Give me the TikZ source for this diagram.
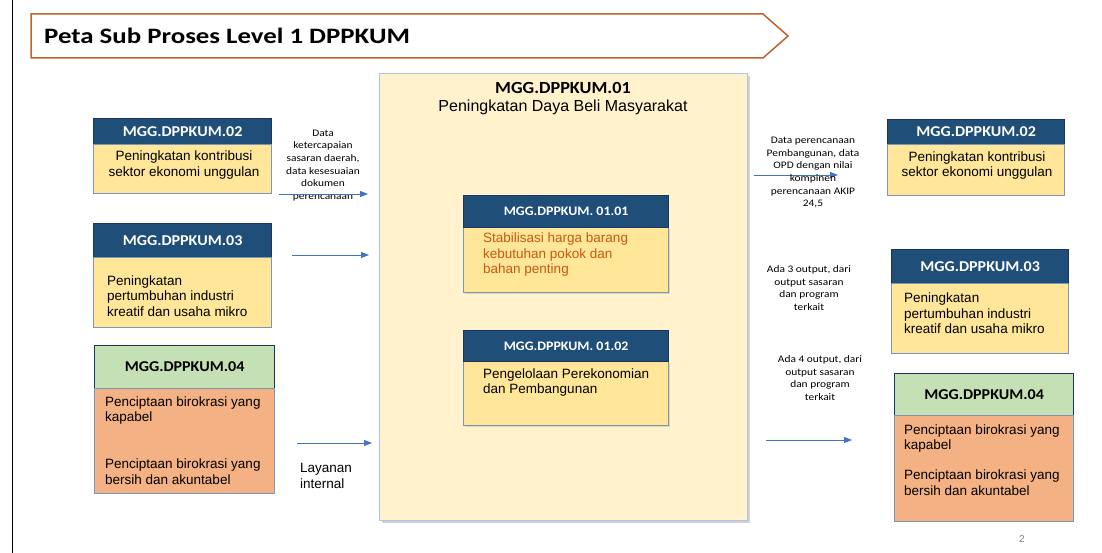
\documentclass[tikz,border=0pt]{standalone}
\usepackage{fontspec}
\setmainfont{Liberation Sans}
\newfontfamily\carlito{Carlito}
\newfontfamily\carlitoH[FakeStretch=1.07]{Carlito}
\newfontfamily\carlitoS[FakeStretch=1.14]{Carlito}
\newfontfamily\carlitoT[FakeStretch=1.22]{Carlito}
\usetikzlibrary{arrows.meta,shadows}
\definecolor{hdrblue}{HTML}{1F4E79}
\definecolor{hdrborder}{HTML}{1B3560}
\definecolor{bodyyellow}{HTML}{FFE699}
\definecolor{bodyborder}{HTML}{7A96B8}
\definecolor{hdrgreen}{HTML}{C5E0B4}
\definecolor{bodyorange}{HTML}{F4B183}
\definecolor{bigfill}{HTML}{FFF2CC}
\definecolor{bigborder}{HTML}{A9C4E4}
\definecolor{arrowblue}{HTML}{4472C4}
\definecolor{banner}{HTML}{C0632B}
\definecolor{redtext}{HTML}{C55A11}
\tikzset{
  box/.style={rectangle, anchor=north west, inner sep=0pt, line width=1.2pt},
  hdr/.style={box, fill=hdrblue, draw=hdrborder, text=white, font=\carlitoH\bfseries\fontsize{15}{17}\selectfont},
  hdrg/.style={box, fill=hdrgreen, draw=hdrborder, text=black, font=\carlitoH\bfseries\fontsize{15}{17}\selectfont},
  ihdr/.style={box, fill=hdrblue, draw=hdrborder, text=white, font=\carlitoH\bfseries\fontsize{13}{15}\selectfont},
  bodyy/.style={box, fill=bodyyellow, draw=bodyborder},
  bodyo/.style={box, fill=bodyorange, draw=bodyborder},
  btext/.style={inner sep=0pt, font=\fontsize{13.5}{15.5}\selectfont},
  small/.style={inner sep=0pt, align=center, font=\carlitoS\fontsize{10}{12.7}\selectfont},
  flow/.style={draw=arrowblue, line width=0.9pt, -{Triangle[length=8pt,width=6pt]}},
}
\begin{document}
\begin{tikzpicture}[x=1pt,y=-1pt]
\useasboundingbox (0,0) rectangle (1102,553);
\fill[white] (0,0) rectangle (1102,553);
% left rule
\coordinate (rt) at (12,0);
\coordinate (rb) at (12,553);
\draw[black, line width=0.8pt] (rt) -- (rb);
% banner
\draw[banner, line width=1.5pt, fill=white] (31,14) -- (763,14) -- (788,36) -- (763,58) -- (31,58) -- cycle;
\node[anchor=base west, inner sep=0pt, font=\carlitoT\bfseries\fontsize{22}{26}\selectfont] (title) at (44,44) {Peta Sub Proses Level 1 DPPKUM};

% ---------- left column ----------
\node[hdr, minimum width=178pt, minimum height=26pt] (l02h) at (93,118) {MGG.DPPKUM.02};
\node[bodyy, minimum width=178pt, minimum height=49pt] (l02b) at (93,144) {};
\node[btext, align=center] (l02t) at (184,165) {Peningkatan kontribusi\\sektor ekonomi unggulan};

\node[hdr, minimum width=178pt, minimum height=34pt] (l03h) at (93,223) {MGG.DPPKUM.03};
\node[bodyy, minimum width=178pt, minimum height=70pt] (l03b) at (93,257) {};
\node[btext, align=left, anchor=west] (l03t) at (107,296) {Peningkatan\\pertumbuhan industri\\kreatif dan usaha mikro};

\node[hdrg, minimum width=180pt, minimum height=43pt] (l04h) at (94,345) {MGG.DPPKUM.04};
\node[bodyo, minimum width=180pt, minimum height=105pt] (l04b) at (94,388) {};
\node[btext, align=left, anchor=west] (l04t1) at (105,410.5) {Penciptaan birokrasi yang\\kapabel};
\node[btext, align=left, anchor=west] (l04t2) at (105,471.5) {Penciptaan birokrasi yang\\bersih dan akuntabel};

% ---------- centre ----------
\node[box, fill=bigfill, draw=bigborder, line width=1.2pt, minimum width=368pt, minimum height=447pt,
      drop shadow={shadow xshift=2.5pt, shadow yshift=-2.5pt, opacity=0.35}] (big) at (379,73) {};
\node[inner sep=0pt, font=\carlitoH\bfseries\fontsize{17}{19}\selectfont] (bigt1) at (563,88) {MGG.DPPKUM.01};
\node[inner sep=0pt, font=\fontsize{16}{18}\selectfont] (bigt2) at (563,107) {Peningkatan Daya Beli Masyarakat};

\node[bodyy, minimum width=205pt, minimum height=65pt, drop shadow={shadow xshift=1.5pt, shadow yshift=-1.5pt, opacity=0.25}] (c1b) at (463,227) {};
\node[ihdr, minimum width=205pt, minimum height=32pt] (c1h) at (463,195) {MGG.DPPKUM. 01.01};
\node[btext, align=left, anchor=west, text=redtext] (c1t) at (483,255) {Stabilisasi harga barang\\kebutuhan pokok dan\\bahan penting};

\node[bodyy, minimum width=205pt, minimum height=64pt, drop shadow={shadow xshift=1.5pt, shadow yshift=-1.5pt, opacity=0.25}] (c2b) at (463,361) {};
\node[ihdr, minimum width=205pt, minimum height=31pt] (c2h) at (463,330) {MGG.DPPKUM. 01.02};
\node[btext, align=left, anchor=west] (c2t) at (483,382.5) {Pengelolaan Perekonomian\\dan Pembangunan};

% ---------- right column ----------
\node[hdr, minimum width=177pt, minimum height=25pt] (r02h) at (887,119) {MGG.DPPKUM.02};
\node[bodyy, minimum width=177pt, minimum height=51pt] (r02b) at (887,144) {};
\node[btext, align=center] (r02t) at (977,165.5) {Peningkatan kontribusi\\sektor ekonomi unggulan};

\node[hdr, minimum width=177pt, minimum height=34pt] (r03h) at (891,249) {MGG.DPPKUM.03};
\node[bodyy, minimum width=177pt, minimum height=70pt] (r03b) at (891,283) {};
\node[btext, align=left, anchor=west] (r03t) at (904,313.5) {Peningkatan\\pertumbuhan industri\\kreatif dan usaha mikro};

\node[hdrg, minimum width=179pt, minimum height=42pt] (r04h) at (894,373) {MGG.DPPKUM.04};
\node[bodyo, minimum width=179pt, minimum height=106pt] (r04b) at (894,415) {};
\node[btext, align=left, anchor=west] (r04t1) at (904,438.5) {Penciptaan birokrasi yang\\kapabel};
\node[btext, align=left, anchor=west] (r04t2) at (904,482.5) {Penciptaan birokrasi yang\\bersih dan akuntabel};

% ---------- arrows and labels ----------
\node[small] (lab1) at (323,165.5) {Data\\ketercapaian\\sasaran daerah,\\data kesesuaian\\dokumen\\perencanaan};
\coordinate (a1s) at (279,194); \coordinate (a1e) at (368,194);
\draw[flow] (a1s) -- (a1e);
\coordinate (a2s) at (292,255); \coordinate (a2e) at (369,255);
\draw[flow] (a2s) -- (a2e);
\coordinate (a3s) at (297,443); \coordinate (a3e) at (372,443);
\draw[flow] (a3s) -- (a3e);
\node[btext, align=left, anchor=west] (lay) at (300,476) {Layanan\\internal};

\coordinate (b1s) at (754,175); \coordinate (b1e) at (838,175);
\draw[flow] (b1s) -- (b1e);
\node[small] (lab2) at (813,172.5) {Data perencanaan\\Pembangunan, data\\OPD dengan nilai\\kompinen\\perencanaan AKIP\\24,5};
\node[small] (lab3) at (809,288) {Ada 3 output, dari\\output sasaran\\dan program\\terkait};
\node[small] (lab4) at (820,378) {Ada 4 output, dari\\output sasaran\\dan program\\terkait};
\coordinate (b3s) at (766,440); \coordinate (b3e) at (852,440);
\draw[flow] (b3s) -- (b3e);

\node[inner sep=0pt, text=gray, font=\fontsize{10}{12}\selectfont] (pg) at (1022,539) {2};
\end{tikzpicture}
\end{document}
